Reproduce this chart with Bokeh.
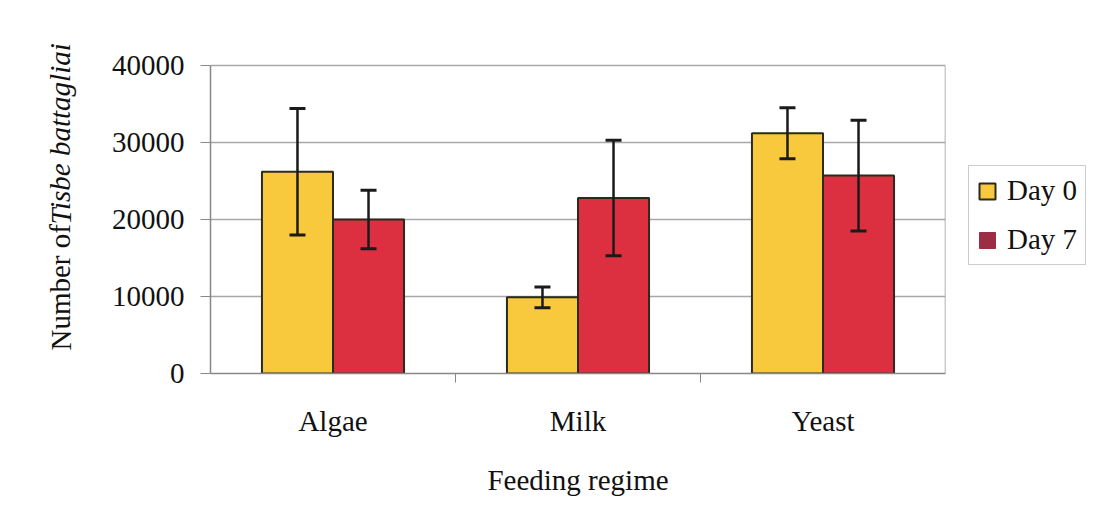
from bokeh.plotting import figure
from bokeh.layouts import row
from bokeh.models import (ColumnDataSource, Whisker, FixedTicker, Legend, LegendItem,
                          Label, Range1d)
from bokeh.embed import file_html
from bokeh.resources import INLINE

categories = ["Algae", "Milk", "Yeast"]
day0_mean = [26200, 9900, 31200]
day0_err = [8200, 1350, 3300]
day7_mean = [20000, 22800, 25700]
day7_err = [3800, 7500, 7200]
y_ticks = [0, 10000, 20000, 30000, 40000]
series_names = ["Day 0", "Day 7"]

YELLOW = "#F8C93D"
RED = "#DC3040"
LEG_RED = "#9B2E42"
OUTLINE = "#2b2a1e"
FONT = "Liberation Serif"

TOTAL_W = 1086
H = 515
FRAME_H = 373          # frames of all three panels span canvas y 0..373
PLOT_H = 308           # visible plot area (0..40000) height
LW, MW = 103, 845
RW = TOTAL_W - LW - MW


def blank(width):
    f = figure(width=width, height=H, output_backend="svg", toolbar_location=None,
               x_range=Range1d(0, width), y_range=Range1d(0, FRAME_H),
               x_axis_type=None, y_axis_type=None,
               min_border_left=0, min_border_right=0, min_border_top=0,
               min_border_bottom=H - FRAME_H)
    f.outline_line_color = None
    f.grid.grid_line_color = None
    f.background_fill_color = "white"
    f.border_fill_color = "white"
    return f


# ---- left strip: mixed-style y-axis title ----
lf = blank(LW)
lf.add_layout(Label(x=60, y=23, text="Number of", angle=1.5708, text_font=FONT,
                    text_font_size="29px", text_color="#111111",
                    text_align="left", text_baseline="middle"))
lf.add_layout(Label(x=60, y=149, text="Tisbe battagliai", angle=1.5708, text_font=FONT,
                    text_font_size="29px", text_color="#111111", text_font_style="italic",
                    text_align="left", text_baseline="middle"))

# ---- main chart ----
y_max = y_ticks[-1]
p = figure(width=MW, height=H, output_backend="svg", toolbar_location=None,
           x_range=Range1d(0, len(categories)),
           y_range=Range1d(0, y_max * FRAME_H / PLOT_H),
           min_border_left=107, min_border_right=3, min_border_top=0,
           min_border_bottom=H - FRAME_H)
p.background_fill_color = "white"
p.border_fill_color = "white"
p.outline_line_color = None

centers = [i + 0.5 for i in range(len(categories))]
bw = 0.29
off = 0.145

# plot-area right edge (chart frame)
p.segment(x0=[len(categories)], y0=[0], x1=[len(categories)], y1=[y_max],
          line_color="#999999", line_width=1.5)

src0 = ColumnDataSource(dict(x=[c - off for c in centers], top=day0_mean,
                             lo=[m - e for m, e in zip(day0_mean, day0_err)],
                             hi=[m + e for m, e in zip(day0_mean, day0_err)]))
src7 = ColumnDataSource(dict(x=[c + off for c in centers], top=day7_mean,
                             lo=[m - e for m, e in zip(day7_mean, day7_err)],
                             hi=[m + e for m, e in zip(day7_mean, day7_err)]))

p.vbar(x="x", top="top", width=bw, source=src0, fill_color=YELLOW,
       line_color=OUTLINE, line_width=2)
p.vbar(x="x", top="top", width=bw, source=src7, fill_color=RED,
       line_color=OUTLINE, line_width=2)

for s in (src0, src7):
    w = Whisker(base="x", upper="hi", lower="lo", source=s, level="overlay",
                line_color="#1a1a1a", line_width=2.5)
    for h in (w.upper_head, w.lower_head):
        h.size = 16
        h.line_width = 3
        h.line_color = "#1a1a1a"
    p.add_layout(w)

p.xaxis.ticker = FixedTicker(ticks=centers, minor_ticks=[1, 2])
p.xaxis.major_label_overrides = {c: n for c, n in zip(centers, categories)}
p.xaxis.major_tick_line_color = None
p.xaxis.minor_tick_line_color = "#888888"
p.xaxis.minor_tick_out = 9
p.xaxis.minor_tick_in = 0
p.xaxis.axis_line_color = "#888888"
p.xaxis.axis_line_width = 1.5
p.xaxis.major_label_text_font = FONT
p.xaxis.major_label_text_font_size = "29px"
p.xaxis.major_label_text_color = "#111111"
p.xaxis.major_label_standoff = 22
p.xaxis.axis_label = "Feeding regime"
p.xaxis.axis_label_text_font = FONT
p.xaxis.axis_label_text_font_style = "normal"
p.xaxis.axis_label_text_font_size = "29px"
p.xaxis.axis_label_text_color = "#111111"
p.xaxis.axis_label_standoff = 24

p.yaxis.ticker = FixedTicker(ticks=y_ticks, minor_ticks=[])
p.yaxis.major_tick_line_color = "#888888"
p.yaxis.major_tick_out = 10
p.yaxis.major_tick_in = 0
p.yaxis.axis_line_color = "#888888"
p.yaxis.axis_line_width = 1.5
p.yaxis.major_label_text_font = FONT
p.yaxis.major_label_text_font_size = "29px"
p.yaxis.major_label_text_color = "#111111"
p.yaxis.major_label_standoff = 16
p.yaxis.bounds = (0, y_max)

p.xgrid.grid_line_color = None
p.ygrid.grid_line_color = "#a8a8a8"
p.ygrid.grid_line_width = 1.5

# ---- right strip: legend ----
rf = blank(RW)
sw0 = rf.vbar(x=[0], top=[0], bottom=[0], width=0, fill_color=YELLOW,
              line_color=OUTLINE, line_width=2)
sw7 = rf.vbar(x=[0], top=[0], bottom=[0], width=0, fill_color=LEG_RED,
              line_color=LEG_RED, line_width=1)
legend = Legend(items=[LegendItem(label=series_names[0], renderers=[sw0]),
                       LegendItem(label=series_names[1], renderers=[sw7])],
                location=(20, 108), orientation="vertical")
legend.label_text_font = FONT
legend.label_text_font_size = "29px"
legend.label_text_color = "#111111"
legend.glyph_width = 20
legend.glyph_height = 20
legend.label_height = 33
legend.label_standoff = 10
legend.spacing = 16
legend.padding = 8
legend.margin = 0
legend.border_line_color = "#999999"
legend.border_line_width = 1.5
legend.background_fill_alpha = 1
rf.add_layout(legend, "center")

layout = row(lf, p, rf, spacing=0)

open("out.html", "w").write(file_html(layout, INLINE))
